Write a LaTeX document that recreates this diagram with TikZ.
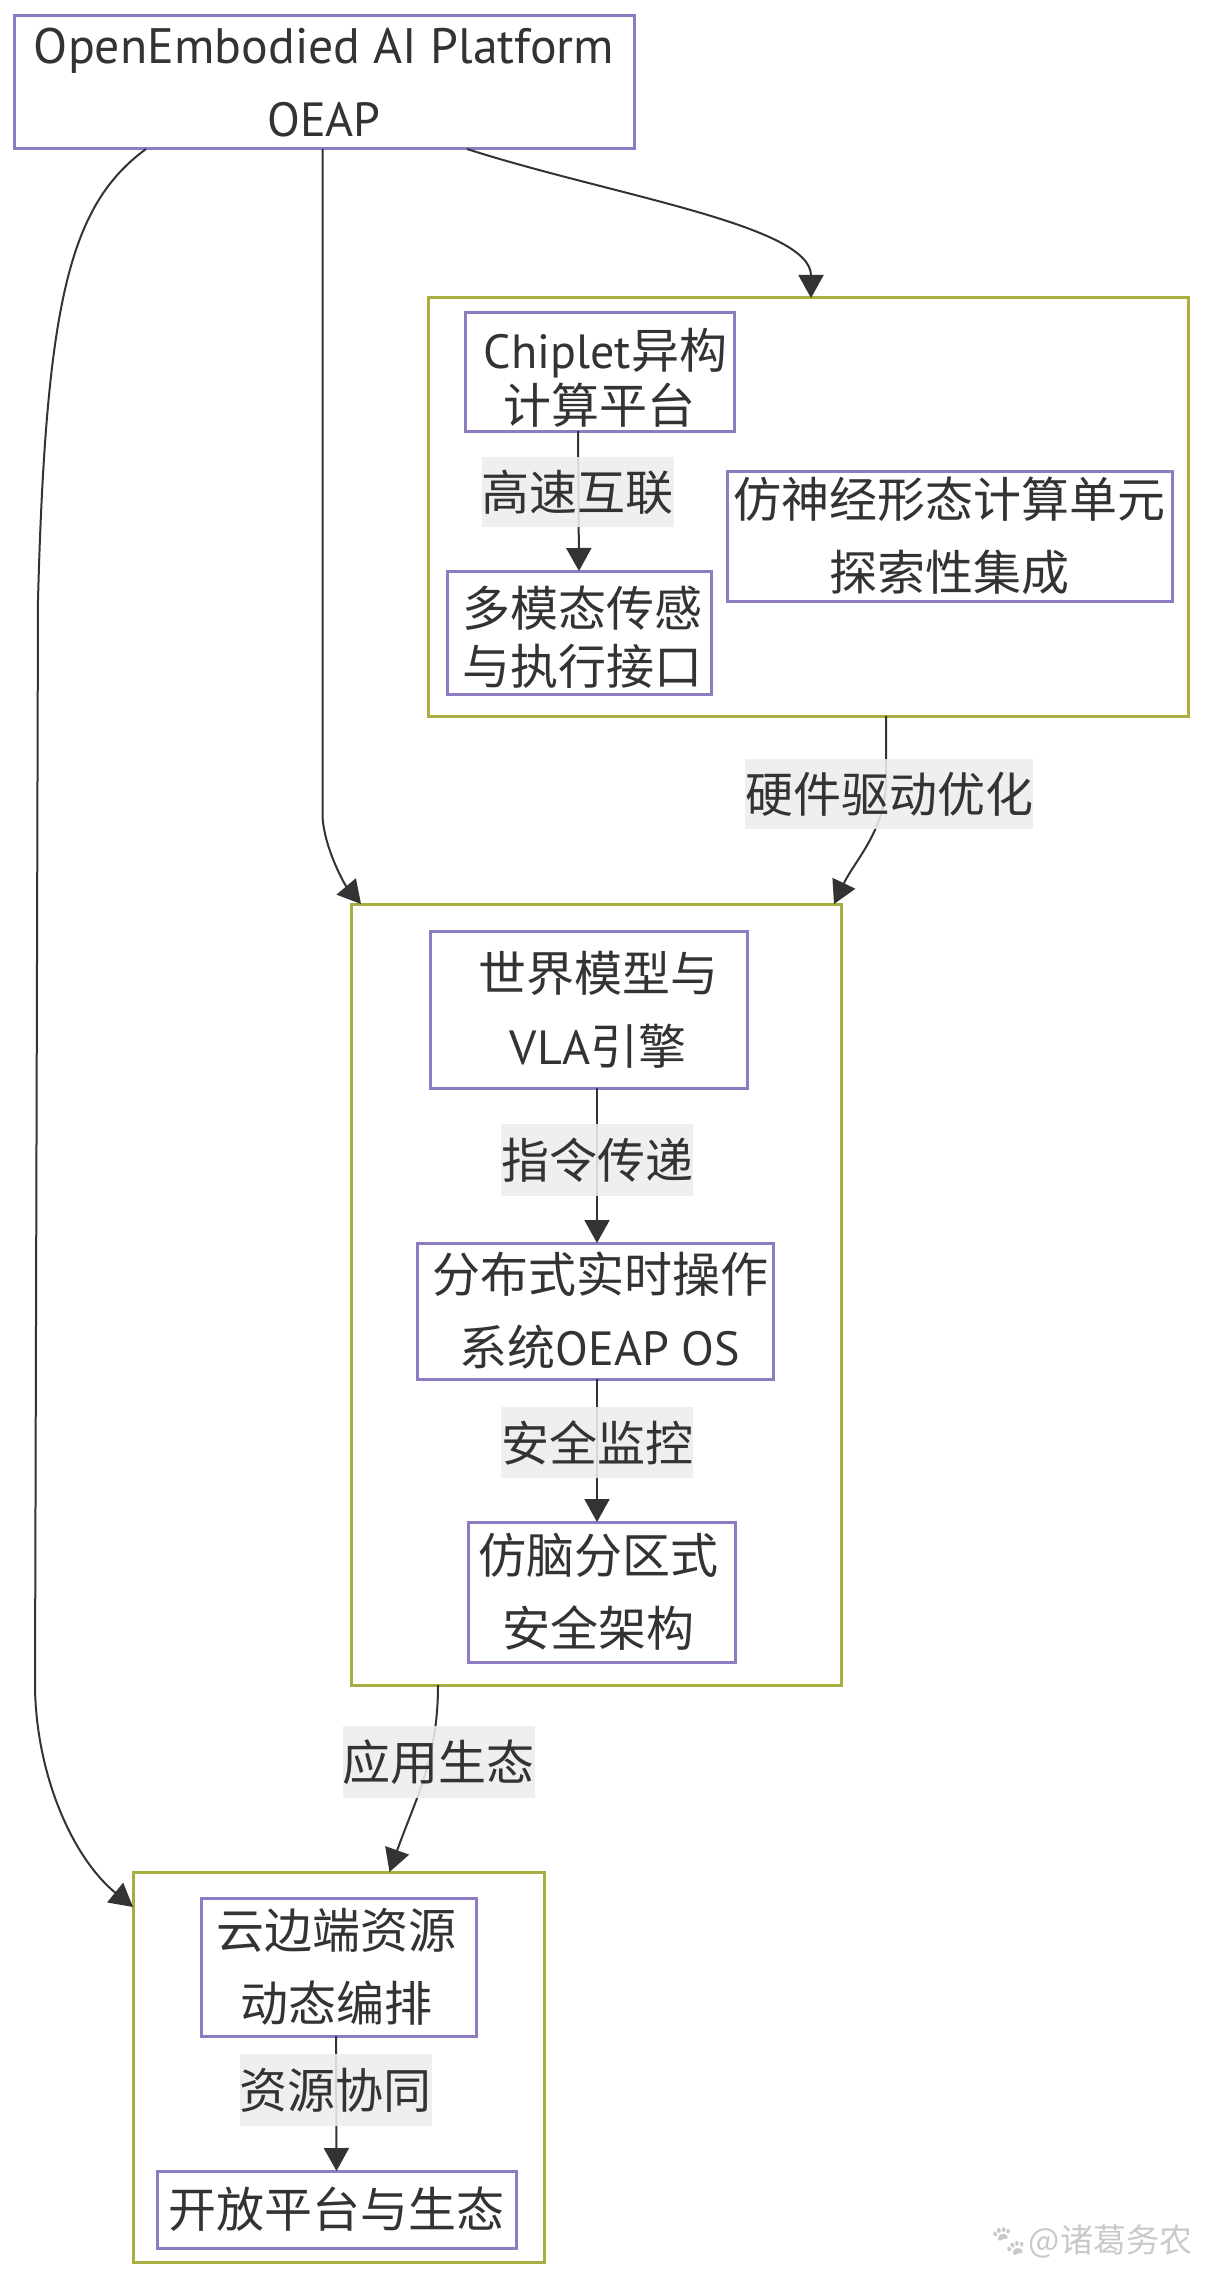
\documentclass[tikz,border=0pt]{standalone}
\usepackage{fontspec}
\setmainfont{Noto Sans CJK SC}
\newfontfamily\lat{PT Sans}
\newfontfamily\emo{Noto Emoji}
\usetikzlibrary{arrows.meta,calc}
\definecolor{nodeline}{HTML}{8E7CC3}
\definecolor{clusterline}{HTML}{AAAD3F}
\definecolor{inkc}{HTML}{333333}
\definecolor{labelbg}{HTML}{EDEDEB}
\definecolor{markc}{HTML}{C9C9C9}
\tikzset{
  leading/.style={font=\fontsize{24}{#1}\selectfont},
  base/.style={rectangle,inner sep=0pt,outer sep=0pt,align=center,text=inkc},
  boxnode/.style={base,draw=nodeline,line width=1.5pt,fill=white},
  clusternode/.style={base,draw=clusterline,line width=1.5pt,fill=white},
  edgelabel/.style={base,fill=labelbg,fill opacity=0.88,text opacity=1,leading=36},
  edge/.style={draw=inkc,line width=1pt,-{Triangle[length=11.5pt,width=12.5pt]}},
}
\newcommand{\bx}[7]{%
  \pgfmathsetmacro\cxv{(#3+#5)/2}%
  \pgfmathsetmacro\cyv{(#4+#6)/2}%
  \pgfmathsetmacro\wv{(#5-#3)*0.5}%
  \pgfmathsetmacro\hv{(#6-#4)*0.5}%
  \node[#1,minimum width=\wv pt,minimum height=\hv pt] (#2) at (\cxv,\cyv) {#7};%
}
\newcommand{\sh}[1]{\hspace*{#1pt}}
\begin{document}
\begin{tikzpicture}[x=0.5pt,y=-0.5pt]
\useasboundingbox (0,0) rectangle (1216,2284);
\fill[white] (0,0) rectangle (1216,2284);
% clusters
\bx{clusternode}{hw}{428}{298}{1188}{716}{}
\bx{clusternode}{sw}{351}{904}{841}{1685}{}
\bx{clusternode}{eco}{133}{1872}{544}{2262}{}
% nodes
\bx{boxnode,leading=36.5}{top}{14}{15.5}{634}{149}{{\lat\fontsize{24.9}{36.5}\selectfont OpenEmbodied AI Platform}\\{\lat OEAP}}
\bx{boxnode,leading=27.5}{chip}{465}{313}{734}{431}{\rule{0pt}{26pt}\sh{6}{\lat Chiplet}异构\\计算平台}
\bx{boxnode,leading=29}{sens}{447}{571}{711}{694}{\rule{0pt}{25pt}\sh{3}多模态传感\\\sh{3}与执行接口}
\bx{boxnode,leading=36.5}{neuro}{727}{471}{1172}{601}{仿神经形态计算单元\\探索性集成}
\bx{boxnode,leading=36.5}{world}{430}{931}{747}{1088}{\sh{9.5}世界模型与\\\sh{9.5}{\lat VLA}引擎}
\bx{boxnode,leading=36.5}{os}{417}{1243}{773}{1379}{\sh{5}分布式实时操作\\\sh{5}系统{\lat OEAP OS}}
\bx{boxnode,leading=36.5}{brain}{468}{1522}{735}{1662}{\sh{-3}仿脑分区式\\\sh{-3}安全架构}
\bx{boxnode,leading=36.5}{cloud}{201}{1898}{476}{2036}{\sh{-2.5}云边端资源\\\sh{-2.5}动态编排}
\bx{boxnode,leading=36.5}{open}{157}{2171}{516}{2248}{开放平台与生态}
% connectors
\draw[edge] ($(top.south)+(-178,0)$) .. controls (70,205) and (46,300) .. (38,600) -- (35,1689) .. controls (37,1780) and (75,1860) .. ($(eco.west)+(0,-160)$);
\draw[edge] ($(top.south)+(-1.4,0)$) -- (322.6,818) .. controls (325,850) and (345,885) .. ($(sw.north)+(-235,0)$);
\draw[edge] ($(top.south)+(143,0)$) .. controls (610,195) and (811,225) .. ($(hw.north)+(3,0)$);
\draw[edge] ($(chip.south)+(-21.5,0)$) -- (sens.north);
\draw[edge] ($(hw.south)+(78,0)$) -- (886,780) .. controls (886,830) and (855,860) .. ($(sw.north)+(238,0)$);
\draw[edge] ($(world.south)+(8.5,0)$) -- ($(os.north)+(2,0)$);
\draw[edge] ($(os.south)+(2,0)$) -- ($(brain.north)+(-4.5,0)$);
\draw[edge] ($(sw.south)+(-158,0)$) .. controls (438,1760) and (415,1800) .. ($(eco.north)+(51,0)$);
\draw[edge] ($(cloud.south)+(-2.5,0)$) -- (open.north);
% edge labels
\bx{edgelabel}{l1}{482}{457}{673}{527}{高速互联}
\bx{edgelabel}{l2}{746}{759}{1032}{829}{硬件驱动优化}
\bx{edgelabel}{l3}{501}{1124}{693}{1196}{指令传递}
\bx{edgelabel}{l4}{501}{1407}{693}{1478}{安全监控}
\bx{edgelabel}{l5}{343.5}{1726}{534}{1798}{应用生态}
\bx{edgelabel}{l6}{240}{2054}{431}{2126}{资源协同}
% watermark
\node[base,text=markc,anchor=east,font=\fontsize{16.5}{20}\selectfont] (mark) at (1192,2241) {{\emo\fontsize{16}{20}\selectfont 🐾}@诸葛务农};
\end{tikzpicture}
\end{document}
